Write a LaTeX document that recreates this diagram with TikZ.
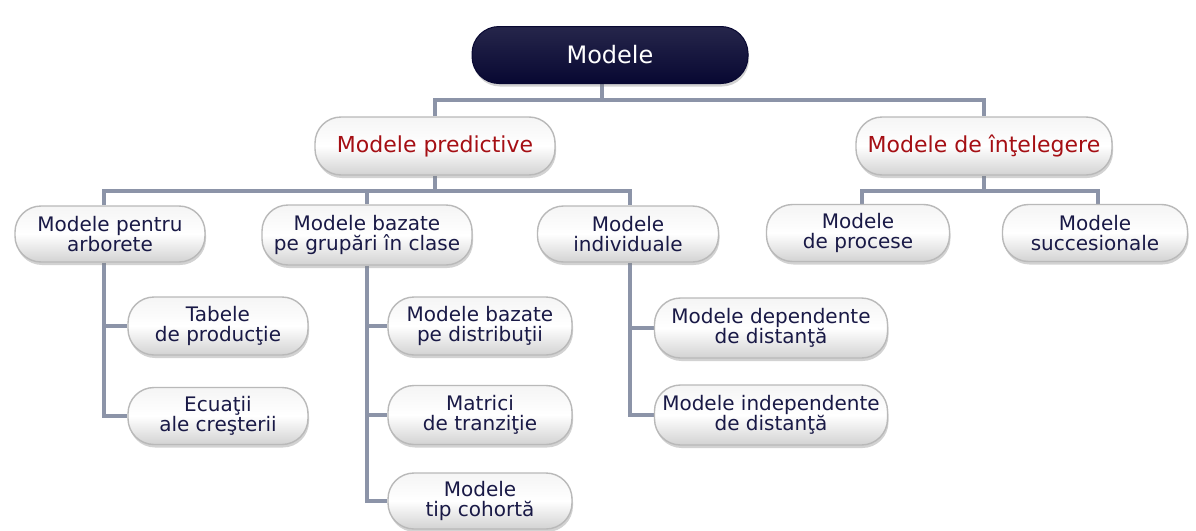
\documentclass[tikz,border=0pt]{standalone}
\usepackage{fontspec}
\setmainfont{DejaVu Sans}
\usetikzlibrary{shadows,backgrounds}
\definecolor{navy}{RGB}{8,8,50}
\definecolor{txtnavy}{RGB}{25,25,70}
\definecolor{txtred}{RGB}{165,15,20}
\definecolor{conncol}{RGB}{140,148,168}
\tikzset{
  pill/.style={rectangle, rounded corners=26pt, inner sep=0pt, align=center,
    top color=gray!8, bottom color=gray!35, middle color=white,
    draw=gray!55, line width=1.4pt, text=txtnavy,
    font=\fontsize{20}{20.5}\selectfont,
    drop shadow={shadow xshift=1pt, shadow yshift=-3pt, opacity=0.35}},
  toppill/.style={rectangle, rounded corners=27pt, inner sep=0pt, align=center,
    top color=navy!88!white, bottom color=navy, draw=navy, line width=1pt,
    text=white, font=\fontsize{24}{25}\selectfont,
    drop shadow={shadow xshift=1pt, shadow yshift=-3pt, opacity=0.35}},
  midpill/.style={pill, text=txtred, font=\fontsize{22}{23}\selectfont},
  conn/.style={draw=conncol, line width=4pt},
}
\begin{document}
\begin{tikzpicture}[x=1pt,y=-1pt]
\useasboundingbox (0,0) rectangle (1196,530);
% nodes
\node[toppill, minimum width=276pt, minimum height=57pt] (top) at (610,55) {Modele};
\node[midpill, minimum width=240pt, minimum height=58pt] (pred) at (435,146) {Modele predictive};
\node[midpill, minimum width=256pt, minimum height=58pt] (intel) at (984,146) {Modele de înţelegere};
\node[pill, minimum width=190pt, minimum height=56pt] (arb) at (110,234) {Modele pentru\\arborete};
\node[pill, minimum width=210pt, minimum height=60pt] (grup) at (367,235) {Modele bazate\\pe grupări în clase};
\node[pill, minimum width=181pt, minimum height=56pt] (indiv) at (628,234) {Modele\\individuale};
\node[pill, minimum width=183pt, minimum height=57pt] (proc) at (858,233) {Modele\\de procese};
\node[pill, minimum width=185pt, minimum height=57pt] (succ) at (1095,233) {Modele\\succesionale};
\node[pill, minimum width=180pt, minimum height=58pt] (tab) at (218,326) {Tabele\\de producţie};
\node[pill, minimum width=180pt, minimum height=57pt] (ecu) at (218,416) {Ecuaţii\\ale creşterii};
\node[pill, minimum width=184pt, minimum height=58pt] (distr) at (480,326) {Modele bazate\\pe distribuţii};
\node[pill, minimum width=184pt, minimum height=59pt] (matr) at (480,415) {Matrici\\de tranziţie};
\node[pill, minimum width=184pt, minimum height=56pt] (coh) at (480,501) {Modele\\tip cohortă};
\node[pill, minimum width=233pt, minimum height=60pt] (dep) at (771,328) {Modele dependente\\de distanţă};
\node[pill, minimum width=233pt, minimum height=60pt] (indep) at (771,415) {Modele independente\\de distanţă};
% connectors
\begin{scope}[on background layer]
\fill[white] (0,0) rectangle (1196,530);
\draw[conn] ([xshift=-8pt]top.south) -- ++(0,16) coordinate (j0);
\draw[conn] (pred.north) |- (j0) -| (intel.north);
\draw[conn] (pred.south) -- ++(0,15) coordinate (j1);
\draw[conn] ([xshift=-6pt]arb.north) |- (j1) -| ([xshift=2pt]indiv.north);
\draw[conn] (grup.north) -- (grup.north |- j1);
\draw[conn] (intel.south) -- ++(0,15) coordinate (j2);
\draw[conn] ([xshift=4pt]proc.north) |- (j2) -| ([xshift=3pt]succ.north);
\draw[conn] ([xshift=-6pt]arb.south) |- (tab.west);
\draw[conn] ([xshift=-6pt]arb.south) |- (ecu.west);
\draw[conn] (grup.south) |- (distr.west);
\draw[conn] (grup.south) |- (matr.west);
\draw[conn] (grup.south) |- (coh.west);
\draw[conn] ([xshift=2pt]indiv.south) |- (dep.west);
\draw[conn] ([xshift=2pt]indiv.south) |- (indep.west);
\end{scope}
\end{tikzpicture}
\end{document}
